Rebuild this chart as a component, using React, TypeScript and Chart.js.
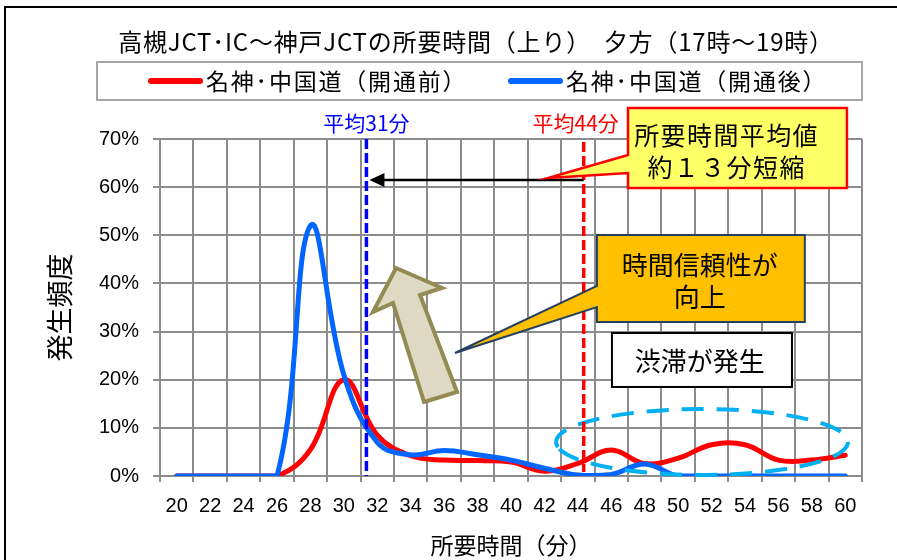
import React, { useEffect, useRef } from "react";
import { Chart, registerables } from "chart.js";

Chart.register(...registerables);

// ---- data ----
const minutes = ["20", "22", "24", "26", "28", "30", "32", "34", "36", "38", "40", "42", "44", "46", "48", "50", "52", "54", "56", "58", "60"];
const beforeOpening = [0, 0, 0, 0, 5.5, 20, 8.5, 4.2, 3.3, 3.2, 2.9, 1.0, 2.6, 5.4, 2.6, 3.7, 6.5, 6.5, 3.3, 3.3, 4.3];
const afterOpening = [0, 0, 0, 0, 52, 21, 7, 4.4, 5.3, 4.4, 3.3, 1.6, 0.2, 0.3, 2.5, 0, 0, 0, 0, 0, 0];
const yTickValues = [0, 10, 20, 30, 40, 50, 60, 70];
const seriesLabels = ["名神･中国道（開通前）", "名神･中国道（開通後）"];
const seriesColors = ["#FF0000", "#0066FF"];
const avgAfter = 31;
const avgBefore = 44;

const titleText = "高槻JCT･IC～神戸JCTの所要時間（上り）　夕方（17時～19時）";
const xTitle = "所要時間（分）";
const yTitle = "発生頻度";

const CJK = "'Noto Sans CJK JP', 'Noto Sans', sans-serif";
const LATIN = "'Liberation Sans', Arial, sans-serif";
const GRID = "#8C8C8C";

const setSpacing = (ctx: any, v: string) => {
  if ("letterSpacing" in ctx) ctx.letterSpacing = v;
};

const decorPlugin = {
  id: "decor",
  beforeDraw(chart: any) {
    const ctx = chart.ctx as CanvasRenderingContext2D;
    ctx.save();
    ctx.fillStyle = "#ffffff";
    ctx.fillRect(0, 0, chart.width, chart.height);
    // outer frame (cropped box)
    ctx.fillStyle = "#000000";
    ctx.fillRect(4, 6, chart.width, 2);
    ctx.fillRect(4, 6, 2, chart.height);
    // title
    ctx.fillStyle = "#000000";
    ctx.font = `24px ${CJK}`;
    setSpacing(ctx, "0.8px");
    ctx.textAlign = "center";
    ctx.textBaseline = "middle";
    ctx.fillText(titleText, 476, 42);
    // legend box
    ctx.fillStyle = "#ffffff";
    ctx.fillRect(97, 62, 765, 38);
    ctx.strokeStyle = "#A6A6A6";
    ctx.lineWidth = 2;
    ctx.strokeRect(97, 62, 765, 38);
    const items = [
      { x0: 148, label: seriesLabels[0], color: seriesColors[0] },
      { x0: 508, label: seriesLabels[1], color: seriesColors[1] },
    ];
    ctx.font = `23px ${CJK}`;
    setSpacing(ctx, "1.8px");
    ctx.textAlign = "left";
    items.forEach((it) => {
      ctx.strokeStyle = it.color;
      ctx.lineWidth = 6;
      ctx.lineCap = "round";
      ctx.beginPath();
      ctx.moveTo(it.x0 + 3, 81);
      ctx.lineTo(it.x0 + 52, 81);
      ctx.stroke();
      ctx.fillStyle = "#000000";
      ctx.fillText(it.label, it.x0 + 58, 81);
    });
    setSpacing(ctx, "0px");
    ctx.restore();
  },
  afterDatasetsDraw(chart: any) {
    const ctx = chart.ctx as CanvasRenderingContext2D;
    const xs = chart.scales.x;
    const ys = chart.scales.y;
    const area = chart.chartArea;
    const X = (m: number) => xs.getPixelForValue((m - Number(minutes[0])) / 2);
    const Y = (p: number) => ys.getPixelForValue(p);
    ctx.save();

    // dashed ellipse (congestion)
    ctx.strokeStyle = "#00B0F0";
    ctx.lineWidth = 4;
    ctx.setLineDash([22, 13]);
    ctx.lineCap = "butt";
    ctx.beginPath();
    const ecx = X(51.43), ecy = Y(7.06);
    ctx.ellipse(ecx, ecy, X(51.43 + 8.73) - ecx, ecy - Y(7.06 + 6.85), 0, Math.PI * 0.95, Math.PI * 2.95);
    ctx.stroke();

    // average lines
    const shift = 0.35;
    const xa = X(avgAfter + shift);
    const xb = X(avgBefore + shift);
    ctx.setLineDash([10, 4]);
    ctx.lineWidth = 3.5;
    ctx.strokeStyle = "#0000FF";
    ctx.beginPath();
    ctx.moveTo(xa, area.top);
    ctx.lineTo(xa, area.bottom);
    ctx.stroke();
    ctx.strokeStyle = "#FF0000";
    ctx.beginPath();
    ctx.moveTo(xb, area.top + 3);
    ctx.lineTo(xb, area.bottom - 4);
    ctx.stroke();
    ctx.setLineDash([]);

    ctx.font = `21px ${CJK}`;
    ctx.textAlign = "center";
    ctx.textBaseline = "middle";
    ctx.fillStyle = "#0000FF";
    ctx.fillText(`平均${avgAfter}分`, xa, area.top - 16);
    ctx.fillStyle = "#FF0000";
    ctx.fillText(`平均${avgBefore}分`, xb - 8, area.top - 16);

    // black arrow between averages
    const ay = Y(61.5);
    ctx.strokeStyle = "#000000";
    ctx.fillStyle = "#000000";
    ctx.lineWidth = 2.5;
    ctx.beginPath();
    ctx.moveTo(xb, ay);
    ctx.lineTo(xa + 16, ay);
    ctx.stroke();
    ctx.beginPath();
    ctx.moveTo(xa + 3, ay);
    ctx.lineTo(xa + 18, ay - 7);
    ctx.lineTo(xa + 18, ay + 7);
    ctx.closePath();
    ctx.fill();

    const callout = (
      l: number, r: number, t: number, b: number,
      a1: number, a2: number, tipX: number, tipY: number,
      fill: string, stroke: string, lw: number
    ) => {
      ctx.beginPath();
      ctx.moveTo(X(l), Y(t));
      ctx.lineTo(X(r), Y(t));
      ctx.lineTo(X(r), Y(b));
      ctx.lineTo(X(l), Y(b));
      ctx.lineTo(X(l), Y(a2));
      ctx.lineTo(X(tipX), Y(tipY));
      ctx.lineTo(X(l), Y(a1));
      ctx.closePath();
      ctx.fillStyle = fill;
      ctx.fill();
      ctx.strokeStyle = stroke;
      ctx.lineWidth = lw;
      ctx.lineJoin = "miter";
      ctx.stroke();
    };

    // yellow callout
    callout(47.0, 60.1, 76.44, 59.82, 66.68, 62.94, 42.21, 61.9, "#FFFF66", "#FF0000", 2.5);
    ctx.fillStyle = "#000000";
    ctx.font = `25px ${CJK}`;
    setSpacing(ctx, "1.4px");
    ctx.fillText("所要時間平均値", X(52.9), Y(70.83));
    ctx.fillText("約１３分短縮", X(52.9), Y(64.18));
    setSpacing(ctx, "0px");

    // orange callout
    callout(45.14, 57.58, 50.06, 31.99, 39.47, 35.1, 36.65, 25.55, "#FFC000", "#243F60", 2);
    ctx.fillStyle = "#000000";
    ctx.font = `26px ${CJK}`;
    ctx.fillText("時間信頼性が", X(51.29), Y(43.83));
    ctx.fillText("向上", X(51.29), Y(37.18));

    // white box
    ctx.fillStyle = "#ffffff";
    ctx.fillRect(X(46.04), Y(29.7), X(56.81) - X(46.04), Y(18.49) - Y(29.7));
    ctx.strokeStyle = "#000000";
    ctx.lineWidth = 2;
    ctx.strokeRect(X(46.04), Y(29.7), X(56.81) - X(46.04), Y(18.49) - Y(29.7));
    ctx.fillStyle = "#000000";
    ctx.font = `26px ${CJK}`;
    ctx.fillText("渋滞が発生", X(51.29), Y(23.89));

    // beige block arrow
    const arrowPts: [number, number][] = [
      [33.12, 43.2], [35.87, 39.05], [34.56, 37.6], [36.77, 17.45],
      [34.8, 15.37], [32.94, 35.93], [31.74, 34.07],
    ];
    ctx.beginPath();
    arrowPts.forEach(([m, p], i) => {
      if (i === 0) ctx.moveTo(X(m), Y(p));
      else ctx.lineTo(X(m), Y(p));
    });
    ctx.closePath();
    ctx.fillStyle = "#DDD9C3";
    ctx.fill();
    ctx.strokeStyle = "#948A54";
    ctx.lineWidth = 4;
    ctx.stroke();

    ctx.restore();
  },
};

export default function App() {
  const canvasRef = useRef<HTMLCanvasElement | null>(null);

  useEffect(() => {
    if (!canvasRef.current) return;
    const chart = new Chart(canvasRef.current, {
      type: "line",
      data: {
        labels: minutes,
        datasets: [
          {
            label: seriesLabels[0],
            data: beforeOpening,
            borderColor: seriesColors[0],
            backgroundColor: seriesColors[0],
            borderWidth: 5,
            pointRadius: 0,
            tension: 0.4,
            fill: false,
            borderCapStyle: "round",
            borderJoinStyle: "round",
            order: 2,
          },
          {
            label: seriesLabels[1],
            data: afterOpening,
            borderColor: seriesColors[1],
            backgroundColor: seriesColors[1],
            borderWidth: 5,
            pointRadius: 0,
            tension: 0.4,
            fill: false,
            borderCapStyle: "round",
            borderJoinStyle: "round",
            order: 1,
          },
        ],
      },
      options: {
        animation: false,
        responsive: false,
        maintainAspectRatio: false,
        layout: { padding: { top: 139, right: 35, left: 0, bottom: 0 } },
        plugins: {
          legend: { display: false },
          title: { display: false },
          tooltip: { enabled: false },
        },
        scales: {
          x: {
            type: "category",
            offset: true,
            grid: { offset: true, color: GRID, lineWidth: 2, tickLength: 6, drawTicks: true },
            border: { color: GRID, width: 2 },
            ticks: {
              autoSkip: false,
              maxRotation: 0,
              color: "#000000",
              padding: 12,
              font: { size: 20, family: LATIN },
            },
            title: {
              display: true,
              text: xTitle,
              color: "#000000",
              font: { size: 23, family: CJK },
              padding: { top: 0, bottom: 1 },
            },
            afterFit: (s: any) => {
              s.height = 84;
            },
          },
          y: {
            min: yTickValues[0],
            max: yTickValues[yTickValues.length - 1],
            afterBuildTicks: (s: any) => {
              s.ticks = yTickValues.map((v) => ({ value: v }));
            },
            grid: { color: GRID, lineWidth: 2, tickLength: 7, drawTicks: true },
            border: { color: GRID, width: 2 },
            ticks: {
              color: "#000000",
              padding: 14,
              font: { size: 20, family: LATIN },
              callback: (v: any) => `${v}%`,
            },
            title: {
              display: true,
              text: yTitle,
              color: "#000000",
              font: { size: 27, family: CJK },
              padding: { top: 44, bottom: 0 },
            },
            afterFit: (s: any) => {
              s.width = 160;
            },
          },
        },
      },
      plugins: [decorPlugin],
    } as any);
    return () => chart.destroy();
  }, []);

  return (
    <div style={{ position: "absolute", left: 0, top: 0, width: 897, height: 560, overflow: "hidden" }}>
      <canvas ref={canvasRef} width={897} height={560} style={{ display: "block" }} />
    </div>
  );
}
